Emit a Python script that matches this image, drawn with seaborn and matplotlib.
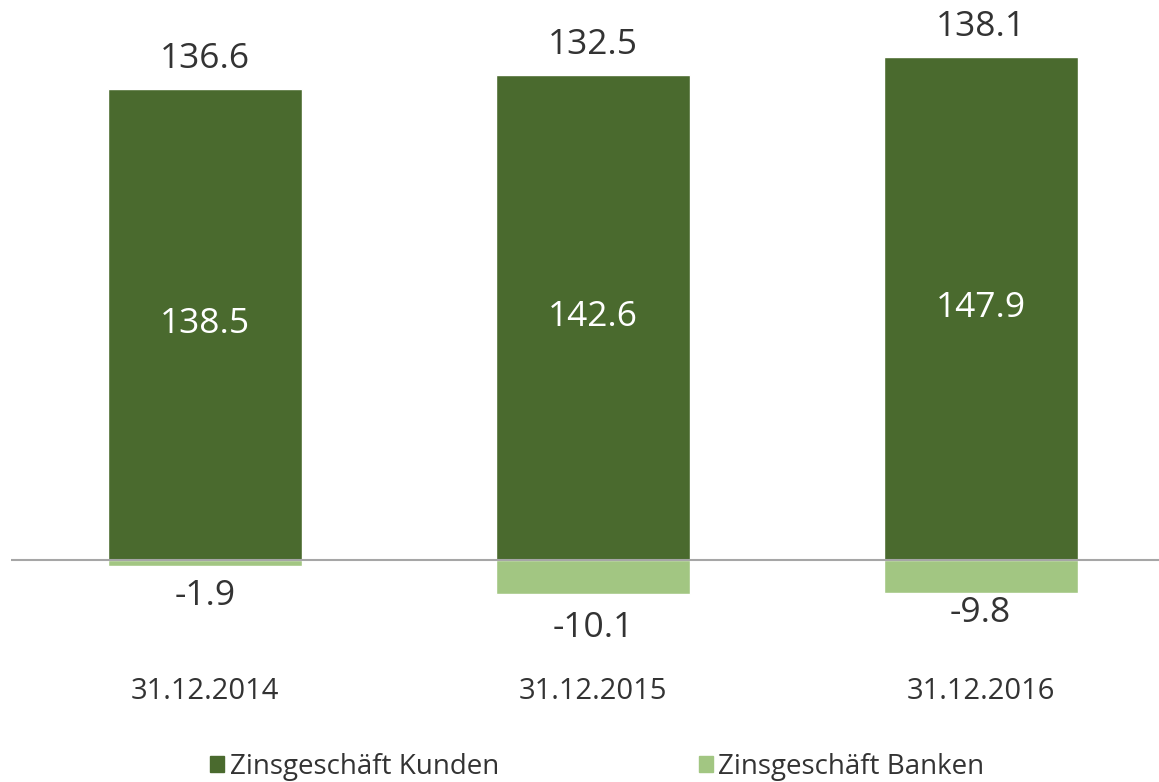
import matplotlib
matplotlib.use('Agg')
import matplotlib.pyplot as plt
import seaborn as sns
import pandas as pd

dates = ['31.12.2014', '31.12.2015', '31.12.2016']
kunden = [138.5, 142.6, 147.9]
banken = [-1.9, -10.1, -9.8]
totals = [136.6, 132.5, 138.1]

dark_green = '#4a6a2e'
light_green = '#a2c682'
text_col = '#333333'

sns.set_style('white')
plt.rcParams['font.family'] = ['Open Sans', 'DejaVu Sans']

df = pd.DataFrame({'date': dates, 'kunden': kunden, 'banken': banken})

fig = plt.figure(figsize=(11.59, 7.82), dpi=100)
ax = fig.add_axes([11 / 1159, 1 - 660 / 782, 1 - 11 / 1159, 660 / 782])

sns.barplot(data=df, x='date', y='kunden', color=dark_green, width=0.5,
            saturation=1, ax=ax)
sns.barplot(data=df, x='date', y='banken', color=light_green, width=0.5,
            saturation=1, ax=ax)

ax.set_ylim(-29.4, 164.6)
ax.set_xlim(-0.5, 2.46)
ax.axhline(0, color='#a6a6a6', lw=1.5, zorder=5)

# Abstand der negativen Beschriftungen (wie im Original leicht versetzt)
neg_offset = [8.7, 10, 5.8]

for i in range(len(dates)):
    ax.text(i, kunden[i] / 2, f'{kunden[i]:.1f}', ha='center', va='center',
            color='white', fontsize=25.5)
    ax.text(i, kunden[i] + 6, f'{totals[i]:.1f}', ha='center',
            va='baseline', color=text_col, fontsize=25.5)
    ax.text(i, banken[i] - neg_offset[i], f'{banken[i]:.1f}', ha='center',
            va='center', color=text_col, fontsize=25.5)

ax.set_xlabel('')
ax.set_ylabel('')
ax.set_yticks([])
ax.tick_params(axis='x', length=0, labelsize=21, labelcolor=text_col, pad=12)
for s in ax.spines.values():
    s.set_visible(False)

handles = [plt.Rectangle((0, 0), 1, 1, color=dark_green),
           plt.Rectangle((0, 0), 1, 1, color=light_green)]
fig.legend(handles, ['Zinsgeschäft Kunden', 'Zinsgeschäft Banken'],
           loc='center', bbox_to_anchor=(0.5155, 1 - 767 / 782),
           ncol=2, frameon=False, fontsize=20, handlelength=0.5,
           handleheight=0.5, handletextpad=0.2, columnspacing=7.2,
           labelcolor=text_col)

fig.savefig('out.png', dpi=100)
